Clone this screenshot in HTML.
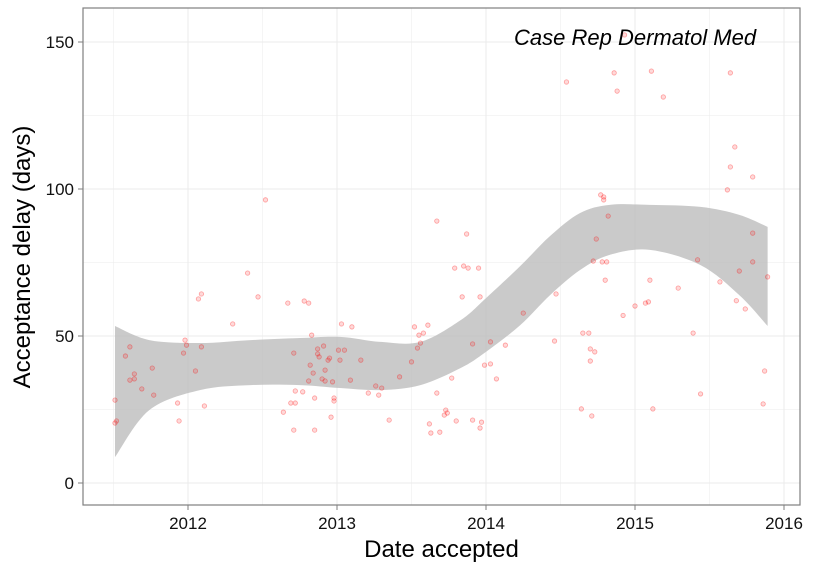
<!DOCTYPE html>
<html><head><meta charset="utf-8"><style>
body{margin:0;background:#fff;}
svg{display:block;font-family:"Liberation Sans",sans-serif;}
</style></head><body>
<svg id="chart" width="825" height="570"></svg>
<script>
const yearTicks=[2012,2013,2014,2015,2016];
const dayTicks=[0,50,100,150];
const ribbonYears=[2011.51,2011.74,2012.08,2012.42,2012.75,2013.02,2013.29,2013.56,2013.83,2014.0,2014.23,2014.43,2014.63,2014.83,2015.10,2015.44,2015.70,2015.89];
const ribbonUpper=[53.4,48.6,47.6,48.6,49.3,49.7,48,48,55.4,62.9,73.8,84,91.8,94.6,94.6,93.9,91.2,87.1];
const ribbonLower=[8.8,24.8,31.6,33.3,33.3,32.3,31.6,33.3,39.1,44.6,53.7,63.9,72.4,77.6,79.3,74.1,63.9,53.4];
const ptYears=[2011.51,2011.52,2011.51,2011.58,2011.61,2011.61,2011.64,2011.64,2011.69,2011.76,2011.77,2011.93,2011.94,2011.97,2011.99,2011.98,2012.05,2012.07,2012.09,2012.09,2012.11,2012.30,2012.40,2012.47,2012.52,2012.64,2012.67,2012.69,2012.71,2012.71,2012.72,2012.72,2012.77,2012.78,2012.81,2012.81,2012.82,2012.83,2012.84,2012.85,2012.85,2012.87,2012.87,2012.88,2012.90,2012.91,2012.92,2012.92,2012.94,2012.95,2012.96,2012.97,2012.98,2012.98,2013.01,2013.02,2013.03,2013.05,2013.09,2013.10,2013.16,2013.21,2013.26,2013.28,2013.30,2013.35,2013.42,2013.50,2013.52,2013.54,2013.55,2013.56,2013.58,2013.61,2013.62,2013.63,2013.67,2013.67,2013.69,2013.72,2013.73,2013.74,2013.77,2013.79,2013.80,2013.84,2013.85,2013.87,2013.88,2013.91,2013.91,2013.95,2013.96,2013.96,2013.97,2013.99,2014.03,2014.03,2014.07,2014.13,2014.25,2014.46,2014.47,2014.54,2014.64,2014.65,2014.69,2014.70,2014.70,2014.71,2014.72,2014.73,2014.74,2014.77,2014.78,2014.79,2014.79,2014.80,2014.81,2014.82,2014.86,2014.88,2014.92,2014.93,2015.00,2015.07,2015.09,2015.10,2015.11,2015.12,2015.19,2015.29,2015.39,2015.42,2015.44,2015.57,2015.62,2015.64,2015.64,2015.67,2015.68,2015.70,2015.74,2015.79,2015.79,2015.79,2015.86,2015.87,2015.89];
const ptDays=[20.4,21.1,28.2,43.2,46.3,35,37.1,35.4,32,39.1,29.9,27.2,21.1,44.2,46.9,48.6,38.1,62.6,64.3,46.3,26.2,54.1,71.4,63.3,96.3,24.1,61.2,27.2,18,44.2,31.3,27.2,31,61.9,61.2,34.7,40.1,50.3,37.4,18,28.9,43.9,45.6,42.9,35.4,46.6,38.4,34.7,41.8,42.5,22.4,34.4,27.9,28.9,45.2,41.8,54.1,45.2,35,53.1,41.8,30.6,33,29.9,32.3,21.4,36.1,41.2,53.1,45.9,50.3,47.6,51,53.7,20.1,17,89.1,30.6,17.3,23.1,24.8,23.8,35.7,73.1,21.1,63.3,73.8,84.7,73.1,47.3,21.4,73.1,63.3,18.7,20.7,40.1,40.5,48,35.4,46.9,57.8,48.3,64.3,136.4,25.2,51,51,45.6,41.5,22.8,75.5,44.6,83,98,75.2,97.3,96.3,69,75.2,90.8,139.5,133.3,57,152.4,60.2,61.2,61.6,69,140.1,25.2,131.3,66.3,51,75.9,30.3,68.4,99.7,107.5,139.5,114.3,62,72.1,59.2,104.1,85,75.2,26.9,38.1,70.1];
const NS="http://www.w3.org/2000/svg";
const svg=document.getElementById('chart');
const L=83,R=800,T=8,B=505;
const xS=v=>188+(v-2012)*149;
const yS=v=>483-v*2.94;
function mk(tag,attrs,parent){const e=document.createElementNS(NS,tag);for(const k in attrs)e.setAttribute(k,attrs[k]);(parent||svg).appendChild(e);return e;}
function smooth(p,start){let s=start?'M'+p[0][0]+','+p[0][1]:'L'+p[0][0]+','+p[0][1];
for(let i=0;i<p.length-1;i++){const p0=p[Math.max(0,i-1)],p1=p[i],p2=p[i+1],p3=p[Math.min(p.length-1,i+2)];
const c1=[p1[0]+(p2[0]-p0[0])/6,p1[1]+(p2[1]-p0[1])/6],c2=[p2[0]-(p3[0]-p1[0])/6,p2[1]-(p3[1]-p1[1])/6];
s+='C'+c1[0]+','+c1[1]+' '+c2[0]+','+c2[1]+' '+p2[0]+','+p2[1];}return s;}
const bg=mk('rect',{x:L,y:T,width:R-L,height:B-T,fill:'#fff'});


const grid=mk('g',{});


for(let v=2011.5;v<=2016;v+=0.5){const x=xS(v);if(x<L||x>R)continue;mk('line',{x1:x,x2:x,y1:T,y2:B,stroke:'#ebebeb','stroke-width':Number.isInteger(v)?1:0.5},grid);}
for(let v=0;v<=150;v+=25){const y=yS(v);mk('line',{x1:L,x2:R,y1:y,y2:y,stroke:'#ebebeb','stroke-width':v%50===0?1:0.5},grid);}
const up=ribbonYears.map((yr,i)=>[xS(yr),yS(ribbonUpper[i])]);
const lo=ribbonYears.map((yr,i)=>[xS(yr),yS(ribbonLower[i])]).reverse();
const rib=mk('path',{d:smooth(up,true)+smooth(lo,false)+'Z',fill:'#bdbdbd','fill-opacity':0.8,'stroke':'none'});


const pts=mk('g',{});


ptYears.forEach((yr,i)=>{const c=mk('circle',{cx:xS(yr),cy:yS(ptDays[i]),r:2.2,fill:'rgba(255,0,0,0.15)',stroke:'rgba(255,0,0,0.35)','stroke-width':0.8},pts);

});
const border=mk('rect',{x:L,y:T,width:R-L,height:B-T,fill:'none',stroke:'#7f7f7f','stroke-width':1.2});


yearTicks.forEach(v=>{const x=xS(v);mk('line',{x1:x,x2:x,y1:B,y2:B+5,stroke:'#7f7f7f'});
const t=mk('text',{x:x,y:B+24,'text-anchor':'middle','font-size':17,fill:'#111'});t.textContent=v;

});
dayTicks.forEach(v=>{const y=yS(v);mk('line',{x1:L-5,x2:L,y1:y,y2:y,stroke:'#7f7f7f'});
const t=mk('text',{x:L-9,y:y+6,'text-anchor':'end','font-size':17,fill:'#111'});t.textContent=v;

});
</script>
<div style="position:absolute;left:0;top:0;width:825px;height:570px;pointer-events:none">
<div style="position:absolute;left:0;width:883px;top:536px;text-align:center;font:24px 'Liberation Sans',sans-serif;color:#000">Date accepted</div>
<div style="position:absolute;left:23px;top:257px;transform:translate(-50%,-50%) rotate(-90deg);white-space:nowrap;font:24px 'Liberation Sans',sans-serif;color:#000">Acceptance delay (days)</div>
<div style="position:absolute;left:514px;top:25px;font:italic 22px 'Liberation Sans',sans-serif;color:#000;white-space:nowrap">Case Rep Dermatol Med</div>
</div>
</body></html>
